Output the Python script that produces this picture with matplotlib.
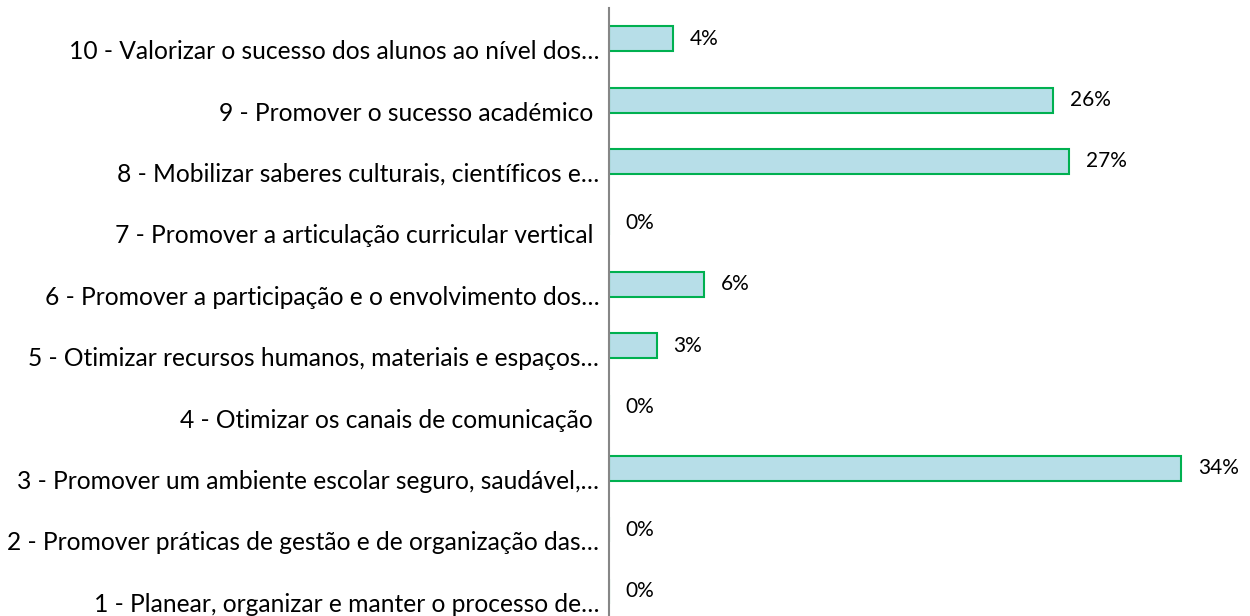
import matplotlib
matplotlib.use("Agg")
import matplotlib.pyplot as plt
from matplotlib.transforms import ScaledTranslation

categories = [
    "1 - Planear, organizar e manter o processo de…",
    "2 - Promover práticas de gestão e de organização das…",
    "3 - Promover um ambiente escolar seguro, saudável,…",
    "4 - Otimizar os canais de comunicação ",
    "5 - Otimizar recursos humanos, materiais e espaços…",
    "6 - Promover a participação e o envolvimento dos…",
    "7 - Promover a articulação curricular vertical ",
    "8 - Mobilizar saberes culturais, científicos e…",
    "9 - Promover o sucesso académico ",
    "10 - Valorizar o sucesso dos alunos ao nível dos…",
]
values = [0.0, 0.0, 34.0, 0.0, 2.85, 5.65, 0.0, 27.35, 26.4, 3.8]

plt.rcParams['font.family'] = ['Lato', 'DejaVu Sans']

W, H = 1250, 616
fig = plt.figure(figsize=(W / 100, H / 100), dpi=100)
ax = fig.add_axes([609 / W, -6 / H, (W - 609) / W, 614 / H])

y = list(range(len(categories)))
ax.barh(y, values, height=0.41, color="#B7DEE8", edgecolor="#00B050", linewidth=1.5, zorder=2)

for yi, v in zip(y, values):
    ax.annotate(f"{round(v):.0f}%", xy=(v, yi), xytext=(12, 0), textcoords="offset points",
                ha="left", va="center", fontsize=15, color="#000000")

ax.set_yticks(y)
ax.set_yticklabels(categories, fontsize=17.7, color="#000000")
ax.set_ylim(-0.5, len(categories) - 0.5)
ax.set_xlim(0, 34.0 * (W - 609) / 572)
ax.tick_params(axis="y", length=0, pad=7)
ax.set_xticks([])
shift = ScaledTranslation(0, -11 / 100, fig.dpi_scale_trans)
for lab in ax.get_yticklabels():
    lab.set_transform(lab.get_transform() + shift)
for s in ["top", "right", "bottom"]:
    ax.spines[s].set_visible(False)
ax.spines["left"].set_color("#868686")
ax.spines["left"].set_linewidth(1.5)
ax.spines["left"].set_zorder(3)

fig.savefig("out.png", dpi=100)
